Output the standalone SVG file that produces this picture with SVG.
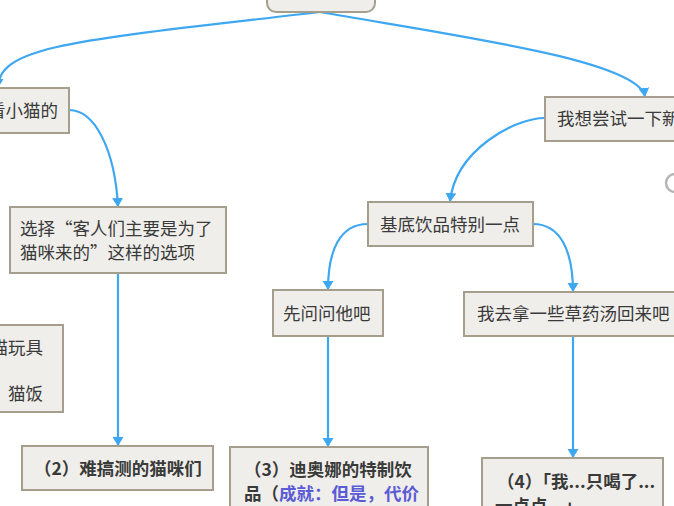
<svg xmlns="http://www.w3.org/2000/svg" width="674" height="506" viewBox="0 0 674 506">
<style>
.box{fill:#efeeea;stroke:#a59e8c;stroke-width:2}
.t{font-family:"Noto Sans CJK SC","Noto Sans",sans-serif;font-size:17.5px;fill:#3a3a3a}
.b{font-weight:bold}
.hl{fill:#5b5bd6}
.c{fill:none;stroke:#3ea7f2;stroke-width:2.2}
</style>
<defs>
<marker id="ah" markerUnits="userSpaceOnUse" markerWidth="12" markerHeight="12" refX="9" refY="5.5" orient="auto" viewBox="0 0 12 12">
<path d="M0,0 L9,5.5 L0,11 Z" fill="#3ea7f2"/>
</marker>
</defs>
<rect width="674" height="506" fill="#ffffff"/>
<g id="connectors">
<path class="c" d="M320,12 C80,40 -2,45 -2,88" marker-end="url(#ah)"/>
<path class="c" d="M320,12 C450,35 640,60 645,97" marker-end="url(#ah)"/>
<path class="c" d="M69,110 C95,110 115,150 118,207" marker-end="url(#ah)"/>
<path class="c" d="M118,273 L118,446" marker-end="url(#ah)"/>
<path class="c" d="M545,118 C515,118 455,150 450,202" marker-end="url(#ah)"/>
<path class="c" d="M368,224 C340,224 328,250 328,290" marker-end="url(#ah)"/>
<path class="c" d="M533,224 C560,224 573,250 573,292" marker-end="url(#ah)"/>
<path class="c" d="M328,336 L328,447" marker-end="url(#ah)"/>
<path class="c" d="M573,336 L573,458" marker-end="url(#ah)"/>
</g>
<g id="node-top">
<rect class="box" x="267" y="-20" width="108" height="32" rx="9"/>
</g>
<g id="node-cat">
<rect class="box" x="-20" y="88" width="89" height="45"/>
<text class="t" x="58" y="117" text-anchor="end">来看小猫的</text>
</g>
<g id="node-try">
<rect class="box" x="545" y="97" width="140" height="44"/>
<text class="t" x="557" y="124.5">我想尝试一下新的饮品</text>
</g>
<circle cx="675" cy="183" r="9" fill="none" stroke="#b5b5b5" stroke-width="2.5"/>
<g id="node-choose">
<rect class="box" x="10" y="207" width="216" height="66"/>
<text class="t" x="20" y="235">选择“客人们主要是为了</text>
<text class="t" x="20" y="259">猫咪来的”这样的选项</text>
</g>
<g id="node-base">
<rect class="box" x="368" y="202" width="165" height="44"/>
<text class="t" x="380" y="231">基底饮品特别一点</text>
</g>
<g id="node-ask">
<rect class="box" x="273" y="290" width="110" height="46"/>
<text class="t" x="283" y="319.5">先问问他吧</text>
</g>
<g id="node-herb">
<rect class="box" x="464" y="292" width="230" height="44"/>
<text class="t" x="477" y="319.5">我去拿一些草药汤回来吧</text>
</g>
<g id="node-toys">
<rect class="box" x="-30" y="325" width="93" height="87"/>
<text class="t" x="43" y="354" text-anchor="end">逗猫玩具</text>
<text class="t" x="43" y="400" text-anchor="end">猫饭</text>
</g>
<g id="node-2">
<rect class="box" x="22" y="446" width="191" height="44"/>
<text class="t b" x="34" y="475">（2）难搞测的猫咪们</text>
</g>
<g id="node-3">
<rect class="box" x="230" y="447" width="198" height="80"/>
<text class="t b" x="244" y="476">（3）迪奥娜的特制饮</text>
<text class="t b" x="244" y="500">品（<tspan class="hl">成就：但是，代价</tspan></text>
</g>
<g id="node-4">
<rect class="box" x="482" y="458" width="181" height="70"/>
<text class="t b" x="497" y="488">（4）「我...只喝了...</text>
<text class="t b" x="495" y="512">一点点...」</text>
</g>
</svg>
